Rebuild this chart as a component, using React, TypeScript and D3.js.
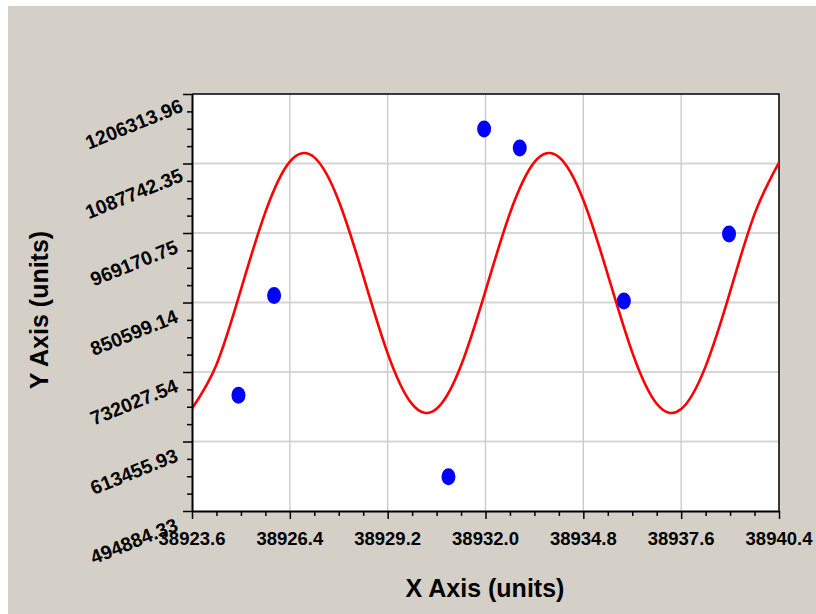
import React, {useEffect, useRef} from 'react'
import * as d3 from 'd3'

// tick labels as printed on the axes
const xTicks = [38923.6, 38926.4, 38929.2, 38932.0, 38934.8, 38937.6, 38940.4];
const yTicks = [494884.33, 613455.93, 732027.54, 850599.14, 969170.75, 1087742.35, 1206313.96];

// blue observations
const pointX = [38924.93, 38925.95, 38930.94, 38931.96, 38932.98, 38935.96, 38938.97];
const pointY = [692500, 862500, 553500, 1146600, 1114200, 853300, 967500];

// red fitted curve
const curveX = [38923.6, 38924.3, 38925.0, 38925.7, 38926.4, 38927.1, 38927.8, 38928.5, 38929.2,
    38929.9, 38930.6, 38931.3, 38932.0, 38932.7, 38933.4, 38934.1, 38934.8, 38935.5, 38936.2,
    38936.9, 38937.6, 38938.3, 38939.0, 38939.7, 38940.4];
const curveY = [669800, 744600, 872500, 1004700, 1090900, 1098200, 1023900, 896300, 763900,
    677200, 669300, 743100, 870500, 1003000, 1090200, 1098700, 1025400, 898200, 765500,
    677900, 668800, 741600, 868600, 1001400, 1089400];

const margin = ({top: 94, right: 37, bottom: 103, left: 192});
const width = 816;
const height = 614;
const font = "'Liberation Sans', Arial, sans-serif";

export default function App() {
    const ref = useRef<SVGSVGElement>(null);

    useEffect(() => {
        const svg = d3.select(ref.current);
        svg.selectAll("*").remove();

        const x = d3.scaleLinear()
            .domain([xTicks[0], xTicks[xTicks.length - 1]])
            .range([margin.left, width - margin.right]);

        const y = d3.scaleLinear()
            .domain([yTicks[0], yTicks[yTicks.length - 1]])
            .range([height - margin.bottom, margin.top]);

        const minor = (ticks: number[]) => d3.range(ticks.length - 1)
            .flatMap(i => [1, 2, 3].map(k => ticks[i] + (ticks[i + 1] - ticks[i]) * k / 4));

        svg.append("rect")
            .attr("x", 8).attr("y", 6)
            .attr("width", width - 8).attr("height", height - 6)
            .attr("fill", "#d4d0c8");

        svg.append("rect")
            .attr("x", margin.left).attr("y", margin.top)
            .attr("width", width - margin.right - margin.left)
            .attr("height", height - margin.bottom - margin.top)
            .attr("fill", "#fff");

        // grid
        svg.append("g")
            .selectAll("line")
            .data(yTicks.slice(1, -1))
            .join("line")
            .attr("x1", margin.left).attr("x2", width - margin.right)
            .attr("y1", d => y(d)).attr("y2", d => y(d))
            .attr("stroke", "#d6d6d6").attr("stroke-width", 2);

        svg.append("g")
            .selectAll("line")
            .data(xTicks.slice(1, -1))
            .join("line")
            .attr("x1", d => x(d)).attr("x2", d => x(d))
            .attr("y1", margin.top).attr("y2", height - margin.bottom)
            .attr("stroke", "#c8c8c8").attr("stroke-width", 1.3);

        // frame top/right
        svg.append("path")
            .attr("d", `M${margin.left},${margin.top}H${width - margin.right}V${height - margin.bottom}`)
            .attr("fill", "none").attr("stroke", "#000").attr("stroke-width", 1.5);

        const clip = svg.append("clipPath").attr("id", "plot-clip");
        clip.append("rect")
            .attr("x", margin.left).attr("y", margin.top)
            .attr("width", width - margin.right - margin.left)
            .attr("height", height - margin.bottom - margin.top);

        const line = d3.line<number>()
            .x((d, i) => x(curveX[i]))
            .y(d => y(d))
            .curve(d3.curveNatural);

        svg.append("path")
            .attr("clip-path", "url(#plot-clip)")
            .attr("d", line(curveY))
            .attr("fill", "none")
            .attr("stroke", "#ff0000")
            .attr("stroke-width", 2.6)
            .attr("stroke-linejoin", "round");

        svg.append("g")
            .attr("fill", "#0000ff")
            .selectAll("ellipse")
            .data(pointY)
            .join("ellipse")
            .attr("cx", (d, i) => x(pointX[i]))
            .attr("cy", d => y(d))
            .attr("rx", 7)
            .attr("ry", 8.5);

        // axes
        const xAxis = svg.append("g")
            .attr("transform", `translate(0,${height - margin.bottom})`);
        xAxis.append("g")
            .call(d3.axisBottom(x).tickValues(minor(xTicks)).tickSize(5).tickFormat(() => ""))
            .call(g => g.select(".domain").remove());
        xAxis.append("g")
            .call(d3.axisBottom(x).tickValues(xTicks).tickSize(8).tickSizeOuter(0).tickFormat(() => ""));
        xAxis.selectAll("line").attr("stroke", "#000").attr("stroke-width", 1.5);
        xAxis.selectAll(".domain").attr("stroke-width", 2);

        const yAxis = svg.append("g")
            .attr("transform", `translate(${margin.left},0)`);
        yAxis.append("g")
            .call(d3.axisLeft(y).tickValues(minor(yTicks)).tickSize(5).tickFormat(() => ""))
            .call(g => g.select(".domain").remove());
        yAxis.append("g")
            .call(d3.axisLeft(y).tickValues(yTicks).tickSize(9).tickSizeOuter(0).tickFormat(() => ""));
        yAxis.selectAll("line").attr("stroke", "#000").attr("stroke-width", 1.5);
        yAxis.selectAll(".domain").attr("stroke-width", 2);

        // tick labels
        svg.append("g")
            .attr("font-family", font).attr("font-weight", "bold").attr("font-size", 18.5)
            .attr("text-anchor", "middle")
            .selectAll("text")
            .data(xTicks)
            .join("text")
            .attr("x", d => x(d))
            .attr("y", height - margin.bottom + 34)
            .text(d => d.toFixed(1));

        svg.append("g")
            .attr("font-family", font).attr("font-weight", "bold").attr("font-size", 19.5)
            .attr("text-anchor", "middle")
            .selectAll("text")
            .data(yTicks)
            .join("text")
            .attr("transform", d => `translate(134,${y(d) + 30}) rotate(-22)`)
            .attr("dy", "0.35em")
            .text(d => d.toFixed(2));

        // titles
        svg.append("text")
            .attr("font-family", font).attr("font-weight", "bold").attr("font-size", 25)
            .attr("text-anchor", "middle")
            .attr("x", 485).attr("y", 597)
            .text("X Axis (units)");

        svg.append("text")
            .attr("font-family", font).attr("font-weight", "bold").attr("font-size", 25)
            .attr("text-anchor", "middle")
            .attr("transform", "translate(48,310) rotate(-90)")
            .text("Y Axis (units)");
    }, []);

    return <svg ref={ref} width={width} height={height}
                style={{position: "absolute", left: 0, top: 0}}/>;
}
